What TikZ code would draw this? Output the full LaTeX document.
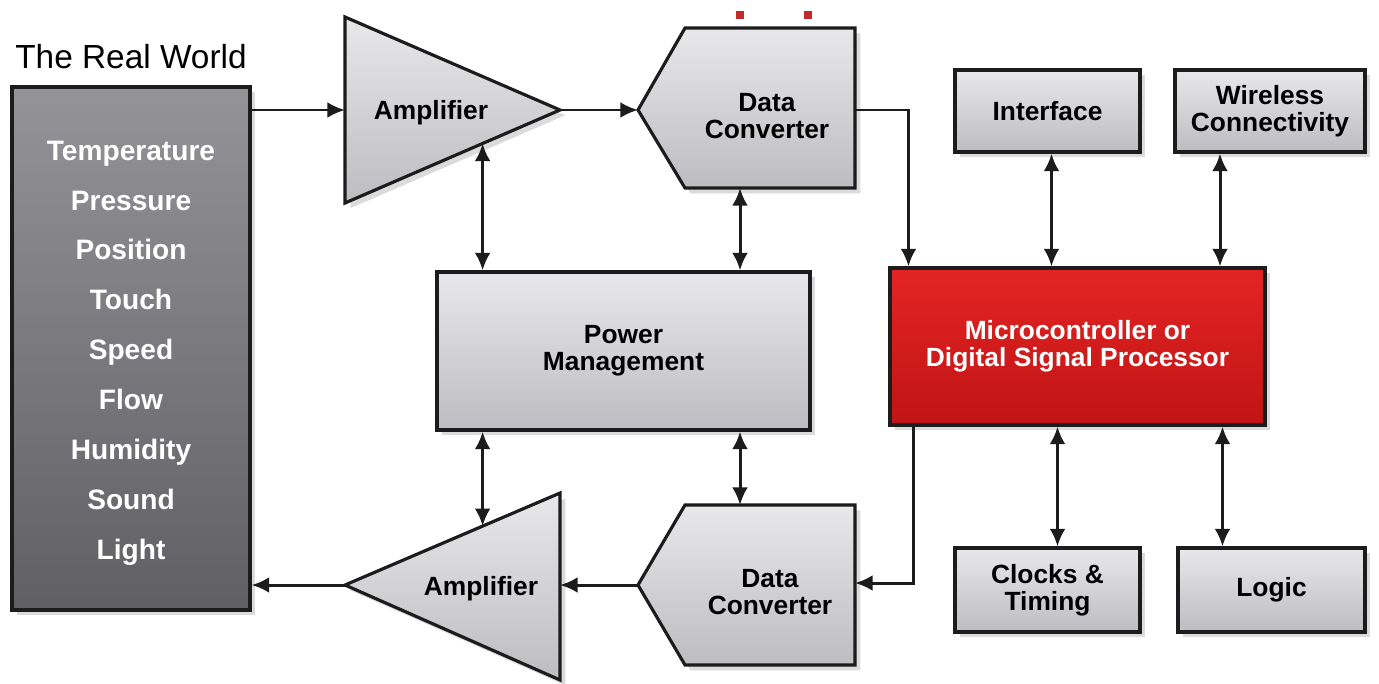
\documentclass[tikz,border=0pt]{standalone}
\usepackage{fontspec}
\newfontfamily\arial{Liberation Sans}
\usetikzlibrary{arrows.meta,calc,shadows}
\definecolor{edge}{HTML}{1C1C1C}
\definecolor{ltop}{HTML}{E8E8EA}
\definecolor{lbot}{HTML}{BDBDC1}
\definecolor{rwtop}{HTML}{949498}
\definecolor{rwbot}{HTML}{606064}
\definecolor{mcutop}{HTML}{E42424}
\definecolor{mcubot}{HTML}{C01414}
\definecolor{dotred}{HTML}{C42A2A}
\tikzset{
  shp/.style={draw=edge, line width=1.8pt, top color=ltop, bottom color=lbot,
    drop shadow={shadow xshift=3pt, shadow yshift=-3pt, opacity=0.28}},
  boxn/.style={shp, rectangle, inner sep=0pt},
  lbl/.style={font=\arial\bfseries\fontsize{15}{15.5}\selectfont, align=center, text=black},
  tip/.tip={Latex[length=10pt,width=9pt]},
  arr/.style={draw=edge, line width=1.7pt, -tip},
  dbl/.style={draw=edge, line width=1.7pt, tip-tip}
}
\begin{document}
\begin{tikzpicture}[x=0.02cm, y=-0.02cm]
\useasboundingbox[fill=white] (0,0) rectangle (1379,683);

% title
\node[font=\arial\fontsize{19}{20}\selectfont] (title) at (131,57) {The Real World};

% real world box
\node[boxn, top color=rwtop, bottom color=rwbot, minimum width=4.76cm, minimum height=10.46cm] (rw) at (131,348.5) {};
\node[font=\arial\bfseries\fontsize{16}{28.4}\selectfont, text=white, align=center] (rwtxt) at (131,353)
  {Temperature\\Pressure\\Position\\Touch\\Speed\\Flow\\Humidity\\Sound\\Light};

% top amplifier
\coordinate (a1tl) at (345,17);
\coordinate (a1bl) at (345,203);
\coordinate (a1tip) at (560,110);
\coordinate (a1in) at (345,110);
\draw[shp, line join=miter] (a1tl) -- (a1tip) -- (a1bl) -- cycle;
\node[lbl] (a1lbl) at (431,113) {Amplifier};
\coordinate (a1b) at ($(a1bl)!0.64!(a1tip)$);

% top data converter
\coordinate (c1tip) at (638,110);
\coordinate (c1r) at (855,110);
\coordinate (c1b) at (740,188);
\draw[shp, line join=miter] (c1tip) -- (685,28) -- (855,28) -- (855,188) -- (685,188) -- cycle;
\node[lbl] (c1lbl) at (767,116) {Data\\Converter};
\fill[dotred] (736,11) rectangle (744,19);
\fill[dotred] (804,11) rectangle (812,19);

% bottom amplifier
\coordinate (a2tip) at (345,585);
\coordinate (a2tr) at (560,493);
\coordinate (a2br) at (560,680);
\coordinate (a2in) at (560,585);
\draw[shp, line join=miter] (a2tip) -- (a2tr) -- (a2br) -- cycle;
\node[lbl] (a2lbl) at (481,589) {Amplifier};
\coordinate (a2t) at ($(a2tip)!0.64!(a2tr)$);

% bottom data converter
\coordinate (c2tip) at (638,585);
\coordinate (c2r) at (855,583);
\coordinate (c2t) at (740,505);
\draw[shp, line join=miter] (c2tip) -- (685,505) -- (855,505) -- (855,665) -- (685,665) -- cycle;
\node[lbl] (c2lbl) at (770,592) {Data\\Converter};

% power management
\node[boxn, minimum width=7.46cm, minimum height=3.16cm, lbl] (pm) at (623.5,351) {Power\\Management};

% MCU
\node[boxn, top color=mcutop, bottom color=mcubot, minimum width=7.5cm, minimum height=3.14cm,
      lbl, text=white] (mcu) at (1077.5,346.5)
  {Microcontroller or\\Digital Signal Processor};

% peripheral boxes
\node[boxn, minimum width=3.7cm, minimum height=1.64cm, lbl] (intf) at (1047.5,111) {Interface};
\node[boxn, minimum width=3.8cm, minimum height=1.64cm, lbl] (wire) at (1270,111) {Wireless\\Connectivity};
\node[boxn, minimum width=3.7cm, minimum height=1.68cm, lbl] (clk) at (1047.5,590) {Clocks \&\\Timing};
\node[boxn, minimum width=3.74cm, minimum height=1.68cm, lbl] (logic) at (1271.5,590) {Logic};

% signal path
\draw[arr] (rw.east |- a1in) -- (a1in);
\draw[arr] (a1tip) -- (c1tip);
\draw[arr] (c1r) -| ($(mcu.north west)+(20,0)$);
\draw[arr] ($(mcu.south west)+(25,0)$) |- (c2r);
\draw[arr] (c2tip) -- (a2in);
\draw[arr] (a2tip) -- (rw.east |- a2tip);

% power connections
\draw[dbl] (pm.north -| a1b) -- (a1b);
\draw[dbl] (pm.north -| c1b) -- (c1b);
\draw[dbl] (pm.south -| a2t) -- (a2t);
\draw[dbl] (pm.south -| c2t) -- (c2t);

% MCU peripherals
\coordinate (ia) at ($(intf.south)+(4,0)$);
\coordinate (wa) at ($(wire.south)+(-50,0)$);
\coordinate (ca) at ($(clk.north)+(10,0)$);
\coordinate (la) at ($(logic.north)+(-49,0)$);
\draw[dbl] (ia) -- (ia |- mcu.north);
\draw[dbl] (wa) -- (wa |- mcu.north);
\draw[dbl] (ca |- mcu.south) -- (ca);
\draw[dbl] (la |- mcu.south) -- (la);
\end{tikzpicture}
\end{document}
